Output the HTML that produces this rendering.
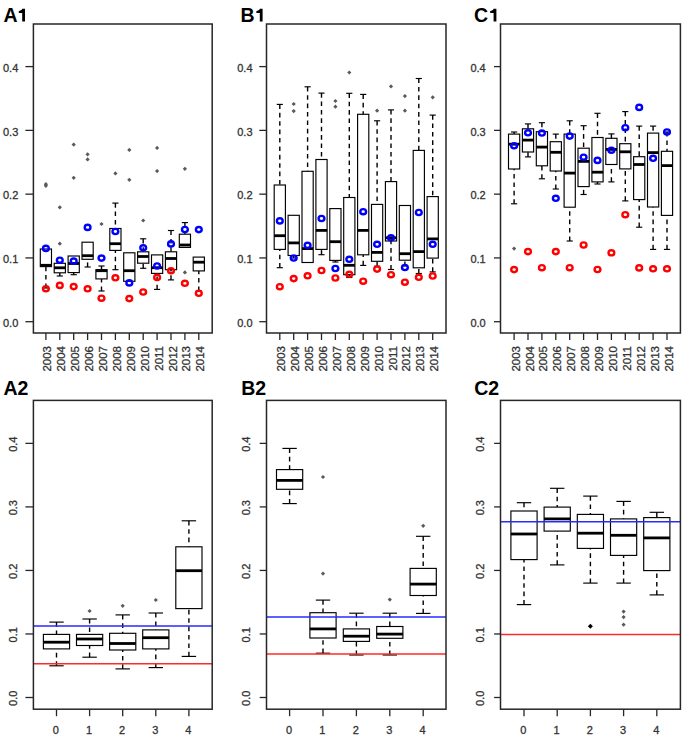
<!DOCTYPE html>
<html><head><meta charset="utf-8"><style>
html,body{margin:0;padding:0;background:#fff;}
svg{display:block;}
text{font-family:"Liberation Sans",sans-serif;}
.t{stroke:#333;stroke-width:0.3px;}
</style></head><body>
<svg width="685" height="738" viewBox="0 0 685 738">
<rect width="685" height="738" fill="#fff"/>
<line x1="45.9" y1="288" x2="45.9" y2="266.6" stroke="#000" stroke-width="1.4" stroke-linecap="butt" stroke-dasharray="4.6,3.8"/>
<line x1="42.82" y1="288" x2="48.98" y2="288" stroke="#000" stroke-width="1.15" stroke-linecap="butt"/>
<rect x="40.3" y="249" width="11.2" height="17.6" fill="#fff" stroke="#000" stroke-width="1.15"/>
<line x1="40.3" y1="265.3" x2="51.5" y2="265.3" stroke="#000" stroke-width="2.8" stroke-linecap="butt"/>
<path d="M45.9 182.1l2.1 2.1l-2.1 2.1l-2.1 -2.1z" fill="#5a5a5a"/>
<path d="M45.9 183.7l2.1 2.1l-2.1 2.1l-2.1 -2.1z" fill="#5a5a5a"/>
<line x1="59.8" y1="276" x2="59.8" y2="272.8" stroke="#000" stroke-width="1.4" stroke-linecap="butt" stroke-dasharray="4.6,3.8"/>
<line x1="56.72" y1="276" x2="62.88" y2="276" stroke="#000" stroke-width="1.15" stroke-linecap="butt"/>
<rect x="54.2" y="263.3" width="11.2" height="9.5" fill="#fff" stroke="#000" stroke-width="1.15"/>
<line x1="54.2" y1="267.8" x2="65.4" y2="267.8" stroke="#000" stroke-width="2.8" stroke-linecap="butt"/>
<path d="M59.8 205.2l2.1 2.1l-2.1 2.1l-2.1 -2.1z" fill="#5a5a5a"/>
<path d="M59.8 241.6l2.1 2.1l-2.1 2.1l-2.1 -2.1z" fill="#5a5a5a"/>
<line x1="73.7" y1="274.7" x2="73.7" y2="272.6" stroke="#000" stroke-width="1.4" stroke-linecap="butt" stroke-dasharray="4.6,3.8"/>
<line x1="70.62" y1="274.7" x2="76.78" y2="274.7" stroke="#000" stroke-width="1.15" stroke-linecap="butt"/>
<rect x="68.1" y="256" width="11.2" height="16.6" fill="#fff" stroke="#000" stroke-width="1.15"/>
<line x1="68.1" y1="263.5" x2="79.3" y2="263.5" stroke="#000" stroke-width="2.8" stroke-linecap="butt"/>
<path d="M73.7 142.5l2.1 2.1l-2.1 2.1l-2.1 -2.1z" fill="#5a5a5a"/>
<path d="M73.7 175.7l2.1 2.1l-2.1 2.1l-2.1 -2.1z" fill="#5a5a5a"/>
<line x1="87.6" y1="267" x2="87.6" y2="259.3" stroke="#000" stroke-width="1.4" stroke-linecap="butt" stroke-dasharray="4.6,3.8"/>
<line x1="84.52" y1="267" x2="90.68" y2="267" stroke="#000" stroke-width="1.15" stroke-linecap="butt"/>
<rect x="82" y="242.2" width="11.2" height="17.1" fill="#fff" stroke="#000" stroke-width="1.15"/>
<line x1="82" y1="255.7" x2="93.2" y2="255.7" stroke="#000" stroke-width="2.8" stroke-linecap="butt"/>
<path d="M87.6 152.2l2.1 2.1l-2.1 2.1l-2.1 -2.1z" fill="#5a5a5a"/>
<path d="M87.6 157.3l2.1 2.1l-2.1 2.1l-2.1 -2.1z" fill="#5a5a5a"/>
<line x1="101.5" y1="266" x2="101.5" y2="269.7" stroke="#000" stroke-width="1.4" stroke-linecap="butt" stroke-dasharray="4.6,3.8"/>
<line x1="98.42" y1="266" x2="104.58" y2="266" stroke="#000" stroke-width="1.15" stroke-linecap="butt"/>
<line x1="101.5" y1="291" x2="101.5" y2="278.9" stroke="#000" stroke-width="1.4" stroke-linecap="butt" stroke-dasharray="4.6,3.8"/>
<line x1="98.42" y1="291" x2="104.58" y2="291" stroke="#000" stroke-width="1.15" stroke-linecap="butt"/>
<rect x="95.9" y="269.7" width="11.2" height="9.2" fill="#fff" stroke="#000" stroke-width="1.15"/>
<line x1="95.9" y1="270.7" x2="107.1" y2="270.7" stroke="#000" stroke-width="2.8" stroke-linecap="butt"/>
<path d="M101.5 221.9l2.1 2.1l-2.1 2.1l-2.1 -2.1z" fill="#5a5a5a"/>
<line x1="115.4" y1="203.1" x2="115.4" y2="228.5" stroke="#000" stroke-width="1.4" stroke-linecap="butt" stroke-dasharray="4.6,3.8"/>
<line x1="112.32" y1="203.1" x2="118.48" y2="203.1" stroke="#000" stroke-width="1.15" stroke-linecap="butt"/>
<line x1="115.4" y1="269.7" x2="115.4" y2="250.4" stroke="#000" stroke-width="1.4" stroke-linecap="butt" stroke-dasharray="4.6,3.8"/>
<line x1="112.32" y1="269.7" x2="118.48" y2="269.7" stroke="#000" stroke-width="1.15" stroke-linecap="butt"/>
<rect x="109.8" y="228.5" width="11.2" height="21.9" fill="#fff" stroke="#000" stroke-width="1.15"/>
<line x1="109.8" y1="243.7" x2="121" y2="243.7" stroke="#000" stroke-width="2.8" stroke-linecap="butt"/>
<path d="M115.4 171.3l2.1 2.1l-2.1 2.1l-2.1 -2.1z" fill="#5a5a5a"/>
<rect x="123.7" y="252.8" width="11.2" height="28.5" fill="#fff" stroke="#000" stroke-width="1.15"/>
<line x1="123.7" y1="270.7" x2="134.9" y2="270.7" stroke="#000" stroke-width="2.8" stroke-linecap="butt"/>
<path d="M129.3 147.8l2.1 2.1l-2.1 2.1l-2.1 -2.1z" fill="#5a5a5a"/>
<path d="M129.3 177.7l2.1 2.1l-2.1 2.1l-2.1 -2.1z" fill="#5a5a5a"/>
<line x1="143.2" y1="238.8" x2="143.2" y2="251.8" stroke="#000" stroke-width="1.4" stroke-linecap="butt" stroke-dasharray="4.6,3.8"/>
<line x1="140.12" y1="238.8" x2="146.28" y2="238.8" stroke="#000" stroke-width="1.15" stroke-linecap="butt"/>
<line x1="143.2" y1="268.3" x2="143.2" y2="263.2" stroke="#000" stroke-width="1.4" stroke-linecap="butt" stroke-dasharray="4.6,3.8"/>
<line x1="140.12" y1="268.3" x2="146.28" y2="268.3" stroke="#000" stroke-width="1.15" stroke-linecap="butt"/>
<rect x="137.6" y="251.8" width="11.2" height="11.4" fill="#fff" stroke="#000" stroke-width="1.15"/>
<line x1="137.6" y1="256.5" x2="148.8" y2="256.5" stroke="#000" stroke-width="2.8" stroke-linecap="butt"/>
<path d="M143.2 218.4l2.1 2.1l-2.1 2.1l-2.1 -2.1z" fill="#5a5a5a"/>
<line x1="157.1" y1="289.4" x2="157.1" y2="273.4" stroke="#000" stroke-width="1.4" stroke-linecap="butt" stroke-dasharray="4.6,3.8"/>
<line x1="154.02" y1="289.4" x2="160.18" y2="289.4" stroke="#000" stroke-width="1.15" stroke-linecap="butt"/>
<rect x="151.5" y="254.9" width="11.2" height="18.5" fill="#fff" stroke="#000" stroke-width="1.15"/>
<line x1="151.5" y1="267.7" x2="162.7" y2="267.7" stroke="#000" stroke-width="2.8" stroke-linecap="butt"/>
<path d="M157.1 145.8l2.1 2.1l-2.1 2.1l-2.1 -2.1z" fill="#5a5a5a"/>
<path d="M157.1 169l2.1 2.1l-2.1 2.1l-2.1 -2.1z" fill="#5a5a5a"/>
<line x1="171" y1="230.5" x2="171" y2="251.8" stroke="#000" stroke-width="1.4" stroke-linecap="butt" stroke-dasharray="4.6,3.8"/>
<line x1="167.92" y1="230.5" x2="174.08" y2="230.5" stroke="#000" stroke-width="1.15" stroke-linecap="butt"/>
<line x1="171" y1="279.9" x2="171" y2="269.7" stroke="#000" stroke-width="1.4" stroke-linecap="butt" stroke-dasharray="4.6,3.8"/>
<line x1="167.92" y1="279.9" x2="174.08" y2="279.9" stroke="#000" stroke-width="1.15" stroke-linecap="butt"/>
<rect x="165.4" y="251.8" width="11.2" height="17.9" fill="#fff" stroke="#000" stroke-width="1.15"/>
<line x1="165.4" y1="258.5" x2="176.6" y2="258.5" stroke="#000" stroke-width="2.8" stroke-linecap="butt"/>
<line x1="184.9" y1="222.6" x2="184.9" y2="234.2" stroke="#000" stroke-width="1.4" stroke-linecap="butt" stroke-dasharray="4.6,3.8"/>
<line x1="181.82" y1="222.6" x2="187.98" y2="222.6" stroke="#000" stroke-width="1.15" stroke-linecap="butt"/>
<rect x="179.3" y="234.2" width="11.2" height="13.2" fill="#fff" stroke="#000" stroke-width="1.15"/>
<line x1="179.3" y1="245" x2="190.5" y2="245" stroke="#000" stroke-width="2.8" stroke-linecap="butt"/>
<path d="M184.9 166.7l2.1 2.1l-2.1 2.1l-2.1 -2.1z" fill="#5a5a5a"/>
<path d="M184.9 270.3l2.1 2.1l-2.1 2.1l-2.1 -2.1z" fill="#5a5a5a"/>
<line x1="198.8" y1="291" x2="198.8" y2="270.9" stroke="#000" stroke-width="1.4" stroke-linecap="butt" stroke-dasharray="4.6,3.8"/>
<line x1="195.72" y1="291" x2="201.88" y2="291" stroke="#000" stroke-width="1.15" stroke-linecap="butt"/>
<rect x="193.2" y="257.1" width="11.2" height="13.8" fill="#fff" stroke="#000" stroke-width="1.15"/>
<line x1="193.2" y1="262.2" x2="204.4" y2="262.2" stroke="#000" stroke-width="2.8" stroke-linecap="butt"/>
<ellipse cx="45.9" cy="248.4" rx="2.9" ry="2.6" fill="none" stroke="#0000ff" stroke-width="2.4"/>
<ellipse cx="45.9" cy="288.7" rx="2.9" ry="2.6" fill="none" stroke="#ff0000" stroke-width="2.4"/>
<ellipse cx="59.8" cy="260.2" rx="2.9" ry="2.6" fill="none" stroke="#0000ff" stroke-width="2.4"/>
<ellipse cx="59.8" cy="285.4" rx="2.9" ry="2.6" fill="none" stroke="#ff0000" stroke-width="2.4"/>
<ellipse cx="73.7" cy="261.1" rx="2.9" ry="2.6" fill="none" stroke="#0000ff" stroke-width="2.4"/>
<ellipse cx="73.7" cy="286.6" rx="2.9" ry="2.6" fill="none" stroke="#ff0000" stroke-width="2.4"/>
<ellipse cx="87.6" cy="227.4" rx="2.9" ry="2.6" fill="none" stroke="#0000ff" stroke-width="2.4"/>
<ellipse cx="87.6" cy="288.8" rx="2.9" ry="2.6" fill="none" stroke="#ff0000" stroke-width="2.4"/>
<ellipse cx="101.5" cy="258.1" rx="2.9" ry="2.6" fill="none" stroke="#0000ff" stroke-width="2.4"/>
<ellipse cx="101.5" cy="298.2" rx="2.9" ry="2.6" fill="none" stroke="#ff0000" stroke-width="2.4"/>
<ellipse cx="115.4" cy="231.5" rx="2.9" ry="2.6" fill="none" stroke="#0000ff" stroke-width="2.4"/>
<ellipse cx="115.4" cy="277.8" rx="2.9" ry="2.6" fill="none" stroke="#ff0000" stroke-width="2.4"/>
<ellipse cx="129.3" cy="282.9" rx="2.9" ry="2.6" fill="none" stroke="#0000ff" stroke-width="2.4"/>
<ellipse cx="129.3" cy="298.6" rx="2.9" ry="2.6" fill="none" stroke="#ff0000" stroke-width="2.4"/>
<ellipse cx="143.2" cy="247.8" rx="2.9" ry="2.6" fill="none" stroke="#0000ff" stroke-width="2.4"/>
<ellipse cx="143.2" cy="292" rx="2.9" ry="2.6" fill="none" stroke="#ff0000" stroke-width="2.4"/>
<ellipse cx="157.1" cy="266" rx="2.9" ry="2.6" fill="none" stroke="#0000ff" stroke-width="2.4"/>
<ellipse cx="157.1" cy="277.4" rx="2.9" ry="2.6" fill="none" stroke="#ff0000" stroke-width="2.4"/>
<ellipse cx="171" cy="243.9" rx="2.9" ry="2.6" fill="none" stroke="#0000ff" stroke-width="2.4"/>
<ellipse cx="171" cy="270.7" rx="2.9" ry="2.6" fill="none" stroke="#ff0000" stroke-width="2.4"/>
<ellipse cx="184.9" cy="229.5" rx="2.9" ry="2.6" fill="none" stroke="#0000ff" stroke-width="2.4"/>
<ellipse cx="184.9" cy="283.3" rx="2.9" ry="2.6" fill="none" stroke="#ff0000" stroke-width="2.4"/>
<ellipse cx="198.8" cy="229.6" rx="2.9" ry="2.6" fill="none" stroke="#0000ff" stroke-width="2.4"/>
<ellipse cx="198.8" cy="293.3" rx="2.9" ry="2.6" fill="none" stroke="#ff0000" stroke-width="2.4"/>
<rect x="33.4" y="24" width="178.8" height="309" fill="none" stroke="#262626" stroke-width="1.5"/>
<line x1="25.4" y1="321.7" x2="33.4" y2="321.7" stroke="#262626" stroke-width="1.3" stroke-linecap="butt"/>
<text class="t" x="18.3" y="326.9" text-anchor="end" font-size="11" font-weight="normal" fill="#333">0.0</text>
<line x1="25.4" y1="257.93" x2="33.4" y2="257.93" stroke="#262626" stroke-width="1.3" stroke-linecap="butt"/>
<text class="t" x="18.3" y="263.12" text-anchor="end" font-size="11" font-weight="normal" fill="#333">0.1</text>
<line x1="25.4" y1="194.15" x2="33.4" y2="194.15" stroke="#262626" stroke-width="1.3" stroke-linecap="butt"/>
<text class="t" x="18.3" y="199.35" text-anchor="end" font-size="11" font-weight="normal" fill="#333">0.2</text>
<line x1="25.4" y1="130.38" x2="33.4" y2="130.38" stroke="#262626" stroke-width="1.3" stroke-linecap="butt"/>
<text class="t" x="18.3" y="135.57" text-anchor="end" font-size="11" font-weight="normal" fill="#333">0.3</text>
<line x1="25.4" y1="66.6" x2="33.4" y2="66.6" stroke="#262626" stroke-width="1.3" stroke-linecap="butt"/>
<text class="t" x="18.3" y="71.8" text-anchor="end" font-size="11" font-weight="normal" fill="#333">0.4</text>
<line x1="45.9" y1="333" x2="45.9" y2="340" stroke="#262626" stroke-width="1.3" stroke-linecap="butt"/>
<text class="t" transform="translate(51.4 346) rotate(-90)" text-anchor="end" font-size="11.5" fill="#333">2003</text>
<line x1="59.8" y1="333" x2="59.8" y2="340" stroke="#262626" stroke-width="1.3" stroke-linecap="butt"/>
<text class="t" transform="translate(65.3 346) rotate(-90)" text-anchor="end" font-size="11.5" fill="#333">2004</text>
<line x1="73.7" y1="333" x2="73.7" y2="340" stroke="#262626" stroke-width="1.3" stroke-linecap="butt"/>
<text class="t" transform="translate(79.2 346) rotate(-90)" text-anchor="end" font-size="11.5" fill="#333">2005</text>
<line x1="87.6" y1="333" x2="87.6" y2="340" stroke="#262626" stroke-width="1.3" stroke-linecap="butt"/>
<text class="t" transform="translate(93.1 346) rotate(-90)" text-anchor="end" font-size="11.5" fill="#333">2006</text>
<line x1="101.5" y1="333" x2="101.5" y2="340" stroke="#262626" stroke-width="1.3" stroke-linecap="butt"/>
<text class="t" transform="translate(107 346) rotate(-90)" text-anchor="end" font-size="11.5" fill="#333">2007</text>
<line x1="115.4" y1="333" x2="115.4" y2="340" stroke="#262626" stroke-width="1.3" stroke-linecap="butt"/>
<text class="t" transform="translate(120.9 346) rotate(-90)" text-anchor="end" font-size="11.5" fill="#333">2008</text>
<line x1="129.3" y1="333" x2="129.3" y2="340" stroke="#262626" stroke-width="1.3" stroke-linecap="butt"/>
<text class="t" transform="translate(134.8 346) rotate(-90)" text-anchor="end" font-size="11.5" fill="#333">2009</text>
<line x1="143.2" y1="333" x2="143.2" y2="340" stroke="#262626" stroke-width="1.3" stroke-linecap="butt"/>
<text class="t" transform="translate(148.7 346) rotate(-90)" text-anchor="end" font-size="11.5" fill="#333">2010</text>
<line x1="157.1" y1="333" x2="157.1" y2="340" stroke="#262626" stroke-width="1.3" stroke-linecap="butt"/>
<text class="t" transform="translate(162.6 346) rotate(-90)" text-anchor="end" font-size="11.5" fill="#333">2011</text>
<line x1="171" y1="333" x2="171" y2="340" stroke="#262626" stroke-width="1.3" stroke-linecap="butt"/>
<text class="t" transform="translate(176.5 346) rotate(-90)" text-anchor="end" font-size="11.5" fill="#333">2012</text>
<line x1="184.9" y1="333" x2="184.9" y2="340" stroke="#262626" stroke-width="1.3" stroke-linecap="butt"/>
<text class="t" transform="translate(190.4 346) rotate(-90)" text-anchor="end" font-size="11.5" fill="#333">2013</text>
<line x1="198.8" y1="333" x2="198.8" y2="340" stroke="#262626" stroke-width="1.3" stroke-linecap="butt"/>
<text class="t" transform="translate(204.3 346) rotate(-90)" text-anchor="end" font-size="11.5" fill="#333">2014</text>
<text x="3.5" y="21.9" text-anchor="start" font-size="19.5" font-weight="bold" fill="#000">A</text>
<path d="M22.2 8.8h2.8v12.8h-2.8v-8.7h-3.4v-2c1.6-.1 3-.7 3.4-2.1z" fill="#000"/>
<line x1="279.8" y1="104.4" x2="279.8" y2="185" stroke="#000" stroke-width="1.4" stroke-linecap="butt" stroke-dasharray="4.6,3.8"/>
<line x1="276.72" y1="104.4" x2="282.88" y2="104.4" stroke="#000" stroke-width="1.15" stroke-linecap="butt"/>
<line x1="279.8" y1="267.7" x2="279.8" y2="249.4" stroke="#000" stroke-width="1.4" stroke-linecap="butt" stroke-dasharray="4.6,3.8"/>
<line x1="276.72" y1="267.7" x2="282.88" y2="267.7" stroke="#000" stroke-width="1.15" stroke-linecap="butt"/>
<rect x="274.2" y="185" width="11.2" height="64.4" fill="#fff" stroke="#000" stroke-width="1.15"/>
<line x1="274.2" y1="235.7" x2="285.4" y2="235.7" stroke="#000" stroke-width="2.8" stroke-linecap="butt"/>
<line x1="293.7" y1="258" x2="293.7" y2="255.5" stroke="#000" stroke-width="1.4" stroke-linecap="butt" stroke-dasharray="4.6,3.8"/>
<line x1="290.62" y1="258" x2="296.78" y2="258" stroke="#000" stroke-width="1.15" stroke-linecap="butt"/>
<rect x="288.1" y="215.3" width="11.2" height="40.2" fill="#fff" stroke="#000" stroke-width="1.15"/>
<line x1="288.1" y1="242.9" x2="299.3" y2="242.9" stroke="#000" stroke-width="2.8" stroke-linecap="butt"/>
<path d="M293.7 101.9l2.1 2.1l-2.1 2.1l-2.1 -2.1z" fill="#5a5a5a"/>
<path d="M293.7 109l2.1 2.1l-2.1 2.1l-2.1 -2.1z" fill="#5a5a5a"/>
<line x1="307.6" y1="86.8" x2="307.6" y2="171.3" stroke="#000" stroke-width="1.4" stroke-linecap="butt" stroke-dasharray="4.6,3.8"/>
<line x1="304.52" y1="86.8" x2="310.68" y2="86.8" stroke="#000" stroke-width="1.15" stroke-linecap="butt"/>
<rect x="302" y="171.3" width="11.2" height="91.2" fill="#fff" stroke="#000" stroke-width="1.15"/>
<line x1="302" y1="248.6" x2="313.2" y2="248.6" stroke="#000" stroke-width="2.8" stroke-linecap="butt"/>
<line x1="321.5" y1="93.1" x2="321.5" y2="159.5" stroke="#000" stroke-width="1.4" stroke-linecap="butt" stroke-dasharray="4.6,3.8"/>
<line x1="318.42" y1="93.1" x2="324.58" y2="93.1" stroke="#000" stroke-width="1.15" stroke-linecap="butt"/>
<line x1="321.5" y1="254.7" x2="321.5" y2="249.4" stroke="#000" stroke-width="1.4" stroke-linecap="butt" stroke-dasharray="4.6,3.8"/>
<line x1="318.42" y1="254.7" x2="324.58" y2="254.7" stroke="#000" stroke-width="1.15" stroke-linecap="butt"/>
<rect x="315.9" y="159.5" width="11.2" height="89.9" fill="#fff" stroke="#000" stroke-width="1.15"/>
<line x1="315.9" y1="230.4" x2="327.1" y2="230.4" stroke="#000" stroke-width="2.8" stroke-linecap="butt"/>
<line x1="335.4" y1="262" x2="335.4" y2="260.4" stroke="#000" stroke-width="1.4" stroke-linecap="butt" stroke-dasharray="4.6,3.8"/>
<line x1="332.32" y1="262" x2="338.48" y2="262" stroke="#000" stroke-width="1.15" stroke-linecap="butt"/>
<rect x="329.8" y="208.6" width="11.2" height="51.8" fill="#fff" stroke="#000" stroke-width="1.15"/>
<line x1="329.8" y1="241.7" x2="341" y2="241.7" stroke="#000" stroke-width="2.8" stroke-linecap="butt"/>
<path d="M335.4 98.9l2.1 2.1l-2.1 2.1l-2.1 -2.1z" fill="#5a5a5a"/>
<path d="M335.4 104.6l2.1 2.1l-2.1 2.1l-2.1 -2.1z" fill="#5a5a5a"/>
<line x1="349.3" y1="93.3" x2="349.3" y2="197.5" stroke="#000" stroke-width="1.4" stroke-linecap="butt" stroke-dasharray="4.6,3.8"/>
<line x1="346.22" y1="93.3" x2="352.38" y2="93.3" stroke="#000" stroke-width="1.15" stroke-linecap="butt"/>
<line x1="349.3" y1="277.5" x2="349.3" y2="274.7" stroke="#000" stroke-width="1.4" stroke-linecap="butt" stroke-dasharray="4.6,3.8"/>
<line x1="346.22" y1="277.5" x2="352.38" y2="277.5" stroke="#000" stroke-width="1.15" stroke-linecap="butt"/>
<rect x="343.7" y="197.5" width="11.2" height="77.2" fill="#fff" stroke="#000" stroke-width="1.15"/>
<line x1="343.7" y1="265.3" x2="354.9" y2="265.3" stroke="#000" stroke-width="2.8" stroke-linecap="butt"/>
<path d="M349.3 70.4l2.1 2.1l-2.1 2.1l-2.1 -2.1z" fill="#5a5a5a"/>
<line x1="363.2" y1="94.4" x2="363.2" y2="114.3" stroke="#000" stroke-width="1.4" stroke-linecap="butt" stroke-dasharray="4.6,3.8"/>
<line x1="360.12" y1="94.4" x2="366.28" y2="94.4" stroke="#000" stroke-width="1.15" stroke-linecap="butt"/>
<line x1="363.2" y1="265.4" x2="363.2" y2="254.8" stroke="#000" stroke-width="1.4" stroke-linecap="butt" stroke-dasharray="4.6,3.8"/>
<line x1="360.12" y1="265.4" x2="366.28" y2="265.4" stroke="#000" stroke-width="1.15" stroke-linecap="butt"/>
<rect x="357.6" y="114.3" width="11.2" height="140.5" fill="#fff" stroke="#000" stroke-width="1.15"/>
<line x1="357.6" y1="230.4" x2="368.8" y2="230.4" stroke="#000" stroke-width="2.8" stroke-linecap="butt"/>
<line x1="377.1" y1="120.8" x2="377.1" y2="204.4" stroke="#000" stroke-width="1.4" stroke-linecap="butt" stroke-dasharray="4.6,3.8"/>
<line x1="374.02" y1="120.8" x2="380.18" y2="120.8" stroke="#000" stroke-width="1.15" stroke-linecap="butt"/>
<line x1="377.1" y1="266.2" x2="377.1" y2="261.3" stroke="#000" stroke-width="1.4" stroke-linecap="butt" stroke-dasharray="4.6,3.8"/>
<line x1="374.02" y1="266.2" x2="380.18" y2="266.2" stroke="#000" stroke-width="1.15" stroke-linecap="butt"/>
<rect x="371.5" y="204.4" width="11.2" height="56.9" fill="#fff" stroke="#000" stroke-width="1.15"/>
<line x1="371.5" y1="252.4" x2="382.7" y2="252.4" stroke="#000" stroke-width="2.8" stroke-linecap="butt"/>
<path d="M377.1 108.6l2.1 2.1l-2.1 2.1l-2.1 -2.1z" fill="#5a5a5a"/>
<line x1="391" y1="109.9" x2="391" y2="181.6" stroke="#000" stroke-width="1.4" stroke-linecap="butt" stroke-dasharray="4.6,3.8"/>
<line x1="387.92" y1="109.9" x2="394.08" y2="109.9" stroke="#000" stroke-width="1.15" stroke-linecap="butt"/>
<line x1="391" y1="269.5" x2="391" y2="241" stroke="#000" stroke-width="1.4" stroke-linecap="butt" stroke-dasharray="4.6,3.8"/>
<line x1="387.92" y1="269.5" x2="394.08" y2="269.5" stroke="#000" stroke-width="1.15" stroke-linecap="butt"/>
<rect x="385.4" y="181.6" width="11.2" height="59.4" fill="#fff" stroke="#000" stroke-width="1.15"/>
<line x1="385.4" y1="237.8" x2="396.6" y2="237.8" stroke="#000" stroke-width="2.8" stroke-linecap="butt"/>
<path d="M391 84.3l2.1 2.1l-2.1 2.1l-2.1 -2.1z" fill="#5a5a5a"/>
<line x1="404.9" y1="266" x2="404.9" y2="260.2" stroke="#000" stroke-width="1.4" stroke-linecap="butt" stroke-dasharray="4.6,3.8"/>
<line x1="401.82" y1="266" x2="407.98" y2="266" stroke="#000" stroke-width="1.15" stroke-linecap="butt"/>
<rect x="399.3" y="205.5" width="11.2" height="54.7" fill="#fff" stroke="#000" stroke-width="1.15"/>
<line x1="399.3" y1="253.7" x2="410.5" y2="253.7" stroke="#000" stroke-width="2.8" stroke-linecap="butt"/>
<path d="M404.9 94l2.1 2.1l-2.1 2.1l-2.1 -2.1z" fill="#5a5a5a"/>
<path d="M404.9 108.6l2.1 2.1l-2.1 2.1l-2.1 -2.1z" fill="#5a5a5a"/>
<line x1="418.8" y1="78.5" x2="418.8" y2="150.4" stroke="#000" stroke-width="1.4" stroke-linecap="butt" stroke-dasharray="4.6,3.8"/>
<line x1="415.72" y1="78.5" x2="421.88" y2="78.5" stroke="#000" stroke-width="1.15" stroke-linecap="butt"/>
<line x1="418.8" y1="273.5" x2="418.8" y2="267.8" stroke="#000" stroke-width="1.4" stroke-linecap="butt" stroke-dasharray="4.6,3.8"/>
<line x1="415.72" y1="273.5" x2="421.88" y2="273.5" stroke="#000" stroke-width="1.15" stroke-linecap="butt"/>
<rect x="413.2" y="150.4" width="11.2" height="117.4" fill="#fff" stroke="#000" stroke-width="1.15"/>
<line x1="413.2" y1="251.6" x2="424.4" y2="251.6" stroke="#000" stroke-width="2.8" stroke-linecap="butt"/>
<line x1="432.7" y1="115.1" x2="432.7" y2="196.6" stroke="#000" stroke-width="1.4" stroke-linecap="butt" stroke-dasharray="4.6,3.8"/>
<line x1="429.62" y1="115.1" x2="435.78" y2="115.1" stroke="#000" stroke-width="1.15" stroke-linecap="butt"/>
<line x1="432.7" y1="271.9" x2="432.7" y2="258.1" stroke="#000" stroke-width="1.4" stroke-linecap="butt" stroke-dasharray="4.6,3.8"/>
<line x1="429.62" y1="271.9" x2="435.78" y2="271.9" stroke="#000" stroke-width="1.15" stroke-linecap="butt"/>
<rect x="427.1" y="196.6" width="11.2" height="61.5" fill="#fff" stroke="#000" stroke-width="1.15"/>
<line x1="427.1" y1="238.9" x2="438.3" y2="238.9" stroke="#000" stroke-width="2.8" stroke-linecap="butt"/>
<path d="M432.7 95.2l2.1 2.1l-2.1 2.1l-2.1 -2.1z" fill="#5a5a5a"/>
<ellipse cx="279.8" cy="220.9" rx="2.9" ry="2.6" fill="none" stroke="#0000ff" stroke-width="2.4"/>
<ellipse cx="279.8" cy="286.7" rx="2.9" ry="2.6" fill="none" stroke="#ff0000" stroke-width="2.4"/>
<ellipse cx="293.7" cy="258" rx="2.9" ry="2.6" fill="none" stroke="#0000ff" stroke-width="2.4"/>
<ellipse cx="293.7" cy="278.6" rx="2.9" ry="2.6" fill="none" stroke="#ff0000" stroke-width="2.4"/>
<ellipse cx="307.6" cy="245.3" rx="2.9" ry="2.6" fill="none" stroke="#0000ff" stroke-width="2.4"/>
<ellipse cx="307.6" cy="275.8" rx="2.9" ry="2.6" fill="none" stroke="#ff0000" stroke-width="2.4"/>
<ellipse cx="321.5" cy="218.5" rx="2.9" ry="2.6" fill="none" stroke="#0000ff" stroke-width="2.4"/>
<ellipse cx="321.5" cy="270.5" rx="2.9" ry="2.6" fill="none" stroke="#ff0000" stroke-width="2.4"/>
<ellipse cx="335.4" cy="268.5" rx="2.9" ry="2.6" fill="none" stroke="#0000ff" stroke-width="2.4"/>
<ellipse cx="335.4" cy="278" rx="2.9" ry="2.6" fill="none" stroke="#ff0000" stroke-width="2.4"/>
<ellipse cx="349.3" cy="259.3" rx="2.9" ry="2.6" fill="none" stroke="#0000ff" stroke-width="2.4"/>
<ellipse cx="349.3" cy="274.3" rx="2.9" ry="2.6" fill="none" stroke="#ff0000" stroke-width="2.4"/>
<ellipse cx="363.2" cy="211.7" rx="2.9" ry="2.6" fill="none" stroke="#0000ff" stroke-width="2.4"/>
<ellipse cx="363.2" cy="281.2" rx="2.9" ry="2.6" fill="none" stroke="#ff0000" stroke-width="2.4"/>
<ellipse cx="377.1" cy="244.3" rx="2.9" ry="2.6" fill="none" stroke="#0000ff" stroke-width="2.4"/>
<ellipse cx="377.1" cy="269.1" rx="2.9" ry="2.6" fill="none" stroke="#ff0000" stroke-width="2.4"/>
<ellipse cx="391" cy="237.8" rx="2.9" ry="2.6" fill="none" stroke="#0000ff" stroke-width="2.4"/>
<ellipse cx="391" cy="274.7" rx="2.9" ry="2.6" fill="none" stroke="#ff0000" stroke-width="2.4"/>
<ellipse cx="404.9" cy="267.5" rx="2.9" ry="2.6" fill="none" stroke="#0000ff" stroke-width="2.4"/>
<ellipse cx="404.9" cy="282.2" rx="2.9" ry="2.6" fill="none" stroke="#ff0000" stroke-width="2.4"/>
<ellipse cx="418.8" cy="212.5" rx="2.9" ry="2.6" fill="none" stroke="#0000ff" stroke-width="2.4"/>
<ellipse cx="418.8" cy="277.3" rx="2.9" ry="2.6" fill="none" stroke="#ff0000" stroke-width="2.4"/>
<ellipse cx="432.7" cy="244.3" rx="2.9" ry="2.6" fill="none" stroke="#0000ff" stroke-width="2.4"/>
<ellipse cx="432.7" cy="276" rx="2.9" ry="2.6" fill="none" stroke="#ff0000" stroke-width="2.4"/>
<rect x="266.5" y="24" width="179.5" height="309" fill="none" stroke="#262626" stroke-width="1.5"/>
<line x1="259.3" y1="321.7" x2="266.5" y2="321.7" stroke="#262626" stroke-width="1.3" stroke-linecap="butt"/>
<text class="t" x="252.5" y="326.9" text-anchor="end" font-size="11" font-weight="normal" fill="#333">0.0</text>
<line x1="259.3" y1="257.93" x2="266.5" y2="257.93" stroke="#262626" stroke-width="1.3" stroke-linecap="butt"/>
<text class="t" x="252.5" y="263.12" text-anchor="end" font-size="11" font-weight="normal" fill="#333">0.1</text>
<line x1="259.3" y1="194.15" x2="266.5" y2="194.15" stroke="#262626" stroke-width="1.3" stroke-linecap="butt"/>
<text class="t" x="252.5" y="199.35" text-anchor="end" font-size="11" font-weight="normal" fill="#333">0.2</text>
<line x1="259.3" y1="130.38" x2="266.5" y2="130.38" stroke="#262626" stroke-width="1.3" stroke-linecap="butt"/>
<text class="t" x="252.5" y="135.57" text-anchor="end" font-size="11" font-weight="normal" fill="#333">0.3</text>
<line x1="259.3" y1="66.6" x2="266.5" y2="66.6" stroke="#262626" stroke-width="1.3" stroke-linecap="butt"/>
<text class="t" x="252.5" y="71.8" text-anchor="end" font-size="11" font-weight="normal" fill="#333">0.4</text>
<line x1="279.8" y1="333" x2="279.8" y2="340" stroke="#262626" stroke-width="1.3" stroke-linecap="butt"/>
<text class="t" transform="translate(285.3 346) rotate(-90)" text-anchor="end" font-size="11.5" fill="#333">2003</text>
<line x1="293.7" y1="333" x2="293.7" y2="340" stroke="#262626" stroke-width="1.3" stroke-linecap="butt"/>
<text class="t" transform="translate(299.2 346) rotate(-90)" text-anchor="end" font-size="11.5" fill="#333">2004</text>
<line x1="307.6" y1="333" x2="307.6" y2="340" stroke="#262626" stroke-width="1.3" stroke-linecap="butt"/>
<text class="t" transform="translate(313.1 346) rotate(-90)" text-anchor="end" font-size="11.5" fill="#333">2005</text>
<line x1="321.5" y1="333" x2="321.5" y2="340" stroke="#262626" stroke-width="1.3" stroke-linecap="butt"/>
<text class="t" transform="translate(327 346) rotate(-90)" text-anchor="end" font-size="11.5" fill="#333">2006</text>
<line x1="335.4" y1="333" x2="335.4" y2="340" stroke="#262626" stroke-width="1.3" stroke-linecap="butt"/>
<text class="t" transform="translate(340.9 346) rotate(-90)" text-anchor="end" font-size="11.5" fill="#333">2007</text>
<line x1="349.3" y1="333" x2="349.3" y2="340" stroke="#262626" stroke-width="1.3" stroke-linecap="butt"/>
<text class="t" transform="translate(354.8 346) rotate(-90)" text-anchor="end" font-size="11.5" fill="#333">2008</text>
<line x1="363.2" y1="333" x2="363.2" y2="340" stroke="#262626" stroke-width="1.3" stroke-linecap="butt"/>
<text class="t" transform="translate(368.7 346) rotate(-90)" text-anchor="end" font-size="11.5" fill="#333">2009</text>
<line x1="377.1" y1="333" x2="377.1" y2="340" stroke="#262626" stroke-width="1.3" stroke-linecap="butt"/>
<text class="t" transform="translate(382.6 346) rotate(-90)" text-anchor="end" font-size="11.5" fill="#333">2010</text>
<line x1="391" y1="333" x2="391" y2="340" stroke="#262626" stroke-width="1.3" stroke-linecap="butt"/>
<text class="t" transform="translate(396.5 346) rotate(-90)" text-anchor="end" font-size="11.5" fill="#333">2011</text>
<line x1="404.9" y1="333" x2="404.9" y2="340" stroke="#262626" stroke-width="1.3" stroke-linecap="butt"/>
<text class="t" transform="translate(410.4 346) rotate(-90)" text-anchor="end" font-size="11.5" fill="#333">2012</text>
<line x1="418.8" y1="333" x2="418.8" y2="340" stroke="#262626" stroke-width="1.3" stroke-linecap="butt"/>
<text class="t" transform="translate(424.3 346) rotate(-90)" text-anchor="end" font-size="11.5" fill="#333">2013</text>
<line x1="432.7" y1="333" x2="432.7" y2="340" stroke="#262626" stroke-width="1.3" stroke-linecap="butt"/>
<text class="t" transform="translate(438.2 346) rotate(-90)" text-anchor="end" font-size="11.5" fill="#333">2014</text>
<text x="240.6" y="21.9" text-anchor="start" font-size="19.5" font-weight="bold" fill="#000">B</text>
<path d="M259.8 8.8h2.8v12.8h-2.8v-8.7h-3.4v-2c1.6-.1 3-.7 3.4-2.1z" fill="#000"/>
<line x1="514.1" y1="132" x2="514.1" y2="134.1" stroke="#000" stroke-width="1.4" stroke-linecap="butt" stroke-dasharray="4.6,3.8"/>
<line x1="511.02" y1="132" x2="517.18" y2="132" stroke="#000" stroke-width="1.15" stroke-linecap="butt"/>
<line x1="514.1" y1="203.8" x2="514.1" y2="169" stroke="#000" stroke-width="1.4" stroke-linecap="butt" stroke-dasharray="4.6,3.8"/>
<line x1="511.02" y1="203.8" x2="517.18" y2="203.8" stroke="#000" stroke-width="1.15" stroke-linecap="butt"/>
<rect x="508.5" y="134.1" width="11.2" height="34.9" fill="#fff" stroke="#000" stroke-width="1.15"/>
<line x1="508.5" y1="144.2" x2="519.7" y2="144.2" stroke="#000" stroke-width="2.8" stroke-linecap="butt"/>
<path d="M514.1 246.5l2.1 2.1l-2.1 2.1l-2.1 -2.1z" fill="#5a5a5a"/>
<line x1="528" y1="123.9" x2="528" y2="128.8" stroke="#000" stroke-width="1.4" stroke-linecap="butt" stroke-dasharray="4.6,3.8"/>
<line x1="524.92" y1="123.9" x2="531.08" y2="123.9" stroke="#000" stroke-width="1.15" stroke-linecap="butt"/>
<line x1="528" y1="156.9" x2="528" y2="152" stroke="#000" stroke-width="1.4" stroke-linecap="butt" stroke-dasharray="4.6,3.8"/>
<line x1="524.92" y1="156.9" x2="531.08" y2="156.9" stroke="#000" stroke-width="1.15" stroke-linecap="butt"/>
<rect x="522.4" y="128.8" width="11.2" height="23.2" fill="#fff" stroke="#000" stroke-width="1.15"/>
<line x1="522.4" y1="140.1" x2="533.6" y2="140.1" stroke="#000" stroke-width="2.8" stroke-linecap="butt"/>
<line x1="541.9" y1="122.7" x2="541.9" y2="131.7" stroke="#000" stroke-width="1.4" stroke-linecap="butt" stroke-dasharray="4.6,3.8"/>
<line x1="538.82" y1="122.7" x2="544.98" y2="122.7" stroke="#000" stroke-width="1.15" stroke-linecap="butt"/>
<line x1="541.9" y1="178.8" x2="541.9" y2="165.8" stroke="#000" stroke-width="1.4" stroke-linecap="butt" stroke-dasharray="4.6,3.8"/>
<line x1="538.82" y1="178.8" x2="544.98" y2="178.8" stroke="#000" stroke-width="1.15" stroke-linecap="butt"/>
<rect x="536.3" y="131.7" width="11.2" height="34.1" fill="#fff" stroke="#000" stroke-width="1.15"/>
<line x1="536.3" y1="147.1" x2="547.5" y2="147.1" stroke="#000" stroke-width="2.8" stroke-linecap="butt"/>
<line x1="555.8" y1="134.1" x2="555.8" y2="141.7" stroke="#000" stroke-width="1.4" stroke-linecap="butt" stroke-dasharray="4.6,3.8"/>
<line x1="552.72" y1="134.1" x2="558.88" y2="134.1" stroke="#000" stroke-width="1.15" stroke-linecap="butt"/>
<line x1="555.8" y1="189" x2="555.8" y2="171" stroke="#000" stroke-width="1.4" stroke-linecap="butt" stroke-dasharray="4.6,3.8"/>
<line x1="552.72" y1="189" x2="558.88" y2="189" stroke="#000" stroke-width="1.15" stroke-linecap="butt"/>
<rect x="550.2" y="141.7" width="11.2" height="29.3" fill="#fff" stroke="#000" stroke-width="1.15"/>
<line x1="550.2" y1="152.3" x2="561.4" y2="152.3" stroke="#000" stroke-width="2.8" stroke-linecap="butt"/>
<line x1="569.7" y1="120.8" x2="569.7" y2="134.1" stroke="#000" stroke-width="1.4" stroke-linecap="butt" stroke-dasharray="4.6,3.8"/>
<line x1="566.62" y1="120.8" x2="572.78" y2="120.8" stroke="#000" stroke-width="1.15" stroke-linecap="butt"/>
<line x1="569.7" y1="241" x2="569.7" y2="207.2" stroke="#000" stroke-width="1.4" stroke-linecap="butt" stroke-dasharray="4.6,3.8"/>
<line x1="566.62" y1="241" x2="572.78" y2="241" stroke="#000" stroke-width="1.15" stroke-linecap="butt"/>
<rect x="564.1" y="134.1" width="11.2" height="73.1" fill="#fff" stroke="#000" stroke-width="1.15"/>
<line x1="564.1" y1="173.1" x2="575.3" y2="173.1" stroke="#000" stroke-width="2.8" stroke-linecap="butt"/>
<line x1="583.6" y1="125.7" x2="583.6" y2="148.2" stroke="#000" stroke-width="1.4" stroke-linecap="butt" stroke-dasharray="4.6,3.8"/>
<line x1="580.52" y1="125.7" x2="586.68" y2="125.7" stroke="#000" stroke-width="1.15" stroke-linecap="butt"/>
<line x1="583.6" y1="194.5" x2="583.6" y2="186.6" stroke="#000" stroke-width="1.4" stroke-linecap="butt" stroke-dasharray="4.6,3.8"/>
<line x1="580.52" y1="194.5" x2="586.68" y2="194.5" stroke="#000" stroke-width="1.15" stroke-linecap="butt"/>
<rect x="578" y="148.2" width="11.2" height="38.4" fill="#fff" stroke="#000" stroke-width="1.15"/>
<line x1="578" y1="161.4" x2="589.2" y2="161.4" stroke="#000" stroke-width="2.8" stroke-linecap="butt"/>
<line x1="597.5" y1="113.3" x2="597.5" y2="137.5" stroke="#000" stroke-width="1.4" stroke-linecap="butt" stroke-dasharray="4.6,3.8"/>
<line x1="594.42" y1="113.3" x2="600.58" y2="113.3" stroke="#000" stroke-width="1.15" stroke-linecap="butt"/>
<line x1="597.5" y1="184" x2="597.5" y2="181.9" stroke="#000" stroke-width="1.4" stroke-linecap="butt" stroke-dasharray="4.6,3.8"/>
<line x1="594.42" y1="184" x2="600.58" y2="184" stroke="#000" stroke-width="1.15" stroke-linecap="butt"/>
<rect x="591.9" y="137.5" width="11.2" height="44.4" fill="#fff" stroke="#000" stroke-width="1.15"/>
<line x1="591.9" y1="172.2" x2="603.1" y2="172.2" stroke="#000" stroke-width="2.8" stroke-linecap="butt"/>
<line x1="611.4" y1="133.9" x2="611.4" y2="138.3" stroke="#000" stroke-width="1.4" stroke-linecap="butt" stroke-dasharray="4.6,3.8"/>
<line x1="608.32" y1="133.9" x2="614.48" y2="133.9" stroke="#000" stroke-width="1.15" stroke-linecap="butt"/>
<line x1="611.4" y1="181.9" x2="611.4" y2="164.5" stroke="#000" stroke-width="1.4" stroke-linecap="butt" stroke-dasharray="4.6,3.8"/>
<line x1="608.32" y1="181.9" x2="614.48" y2="181.9" stroke="#000" stroke-width="1.15" stroke-linecap="butt"/>
<rect x="605.8" y="138.3" width="11.2" height="26.2" fill="#fff" stroke="#000" stroke-width="1.15"/>
<line x1="605.8" y1="149.4" x2="617" y2="149.4" stroke="#000" stroke-width="2.8" stroke-linecap="butt"/>
<line x1="625.3" y1="111.6" x2="625.3" y2="143.7" stroke="#000" stroke-width="1.4" stroke-linecap="butt" stroke-dasharray="4.6,3.8"/>
<line x1="622.22" y1="111.6" x2="628.38" y2="111.6" stroke="#000" stroke-width="1.15" stroke-linecap="butt"/>
<line x1="625.3" y1="200.9" x2="625.3" y2="168.9" stroke="#000" stroke-width="1.4" stroke-linecap="butt" stroke-dasharray="4.6,3.8"/>
<line x1="622.22" y1="200.9" x2="628.38" y2="200.9" stroke="#000" stroke-width="1.15" stroke-linecap="butt"/>
<rect x="619.7" y="143.7" width="11.2" height="25.2" fill="#fff" stroke="#000" stroke-width="1.15"/>
<line x1="619.7" y1="151.8" x2="630.9" y2="151.8" stroke="#000" stroke-width="2.8" stroke-linecap="butt"/>
<line x1="639.2" y1="126.1" x2="639.2" y2="156.7" stroke="#000" stroke-width="1.4" stroke-linecap="butt" stroke-dasharray="4.6,3.8"/>
<line x1="636.12" y1="126.1" x2="642.28" y2="126.1" stroke="#000" stroke-width="1.15" stroke-linecap="butt"/>
<line x1="639.2" y1="227.2" x2="639.2" y2="199.6" stroke="#000" stroke-width="1.4" stroke-linecap="butt" stroke-dasharray="4.6,3.8"/>
<line x1="636.12" y1="227.2" x2="642.28" y2="227.2" stroke="#000" stroke-width="1.15" stroke-linecap="butt"/>
<rect x="633.6" y="156.7" width="11.2" height="42.9" fill="#fff" stroke="#000" stroke-width="1.15"/>
<line x1="633.6" y1="164.5" x2="644.8" y2="164.5" stroke="#000" stroke-width="2.8" stroke-linecap="butt"/>
<line x1="653.1" y1="126.1" x2="653.1" y2="133.1" stroke="#000" stroke-width="1.4" stroke-linecap="butt" stroke-dasharray="4.6,3.8"/>
<line x1="650.02" y1="126.1" x2="656.18" y2="126.1" stroke="#000" stroke-width="1.15" stroke-linecap="butt"/>
<line x1="653.1" y1="249.4" x2="653.1" y2="207" stroke="#000" stroke-width="1.4" stroke-linecap="butt" stroke-dasharray="4.6,3.8"/>
<line x1="650.02" y1="249.4" x2="656.18" y2="249.4" stroke="#000" stroke-width="1.15" stroke-linecap="butt"/>
<rect x="647.5" y="133.1" width="11.2" height="73.9" fill="#fff" stroke="#000" stroke-width="1.15"/>
<line x1="647.5" y1="152.6" x2="658.7" y2="152.6" stroke="#000" stroke-width="2.8" stroke-linecap="butt"/>
<line x1="667" y1="132" x2="667" y2="151.3" stroke="#000" stroke-width="1.4" stroke-linecap="butt" stroke-dasharray="4.6,3.8"/>
<line x1="663.92" y1="132" x2="670.08" y2="132" stroke="#000" stroke-width="1.15" stroke-linecap="butt"/>
<line x1="667" y1="249.4" x2="667" y2="215.4" stroke="#000" stroke-width="1.4" stroke-linecap="butt" stroke-dasharray="4.6,3.8"/>
<line x1="663.92" y1="249.4" x2="670.08" y2="249.4" stroke="#000" stroke-width="1.15" stroke-linecap="butt"/>
<rect x="661.4" y="151.3" width="11.2" height="64.1" fill="#fff" stroke="#000" stroke-width="1.15"/>
<line x1="661.4" y1="165.6" x2="672.6" y2="165.6" stroke="#000" stroke-width="2.8" stroke-linecap="butt"/>
<ellipse cx="514.1" cy="145.8" rx="2.9" ry="2.6" fill="none" stroke="#0000ff" stroke-width="2.4"/>
<ellipse cx="514.1" cy="269.6" rx="2.9" ry="2.6" fill="none" stroke="#ff0000" stroke-width="2.4"/>
<ellipse cx="528" cy="132.8" rx="2.9" ry="2.6" fill="none" stroke="#0000ff" stroke-width="2.4"/>
<ellipse cx="528" cy="251.6" rx="2.9" ry="2.6" fill="none" stroke="#ff0000" stroke-width="2.4"/>
<ellipse cx="541.9" cy="133" rx="2.9" ry="2.6" fill="none" stroke="#0000ff" stroke-width="2.4"/>
<ellipse cx="541.9" cy="267.7" rx="2.9" ry="2.6" fill="none" stroke="#ff0000" stroke-width="2.4"/>
<ellipse cx="555.8" cy="198.3" rx="2.9" ry="2.6" fill="none" stroke="#0000ff" stroke-width="2.4"/>
<ellipse cx="555.8" cy="251.6" rx="2.9" ry="2.6" fill="none" stroke="#ff0000" stroke-width="2.4"/>
<ellipse cx="569.7" cy="136.1" rx="2.9" ry="2.6" fill="none" stroke="#0000ff" stroke-width="2.4"/>
<ellipse cx="569.7" cy="267.7" rx="2.9" ry="2.6" fill="none" stroke="#ff0000" stroke-width="2.4"/>
<ellipse cx="583.6" cy="157.2" rx="2.9" ry="2.6" fill="none" stroke="#0000ff" stroke-width="2.4"/>
<ellipse cx="583.6" cy="245" rx="2.9" ry="2.6" fill="none" stroke="#ff0000" stroke-width="2.4"/>
<ellipse cx="597.5" cy="160.4" rx="2.9" ry="2.6" fill="none" stroke="#0000ff" stroke-width="2.4"/>
<ellipse cx="597.5" cy="269.5" rx="2.9" ry="2.6" fill="none" stroke="#ff0000" stroke-width="2.4"/>
<ellipse cx="611.4" cy="150.2" rx="2.9" ry="2.6" fill="none" stroke="#0000ff" stroke-width="2.4"/>
<ellipse cx="611.4" cy="252.8" rx="2.9" ry="2.6" fill="none" stroke="#ff0000" stroke-width="2.4"/>
<ellipse cx="625.3" cy="127.7" rx="2.9" ry="2.6" fill="none" stroke="#0000ff" stroke-width="2.4"/>
<ellipse cx="625.3" cy="214.7" rx="2.9" ry="2.6" fill="none" stroke="#ff0000" stroke-width="2.4"/>
<ellipse cx="639.2" cy="107.4" rx="2.9" ry="2.6" fill="none" stroke="#0000ff" stroke-width="2.4"/>
<ellipse cx="639.2" cy="267.9" rx="2.9" ry="2.6" fill="none" stroke="#ff0000" stroke-width="2.4"/>
<ellipse cx="653.1" cy="158.3" rx="2.9" ry="2.6" fill="none" stroke="#0000ff" stroke-width="2.4"/>
<ellipse cx="653.1" cy="268.8" rx="2.9" ry="2.6" fill="none" stroke="#ff0000" stroke-width="2.4"/>
<ellipse cx="667" cy="132" rx="2.9" ry="2.6" fill="none" stroke="#0000ff" stroke-width="2.4"/>
<ellipse cx="667" cy="268.8" rx="2.9" ry="2.6" fill="none" stroke="#ff0000" stroke-width="2.4"/>
<rect x="500.5" y="24" width="179.9" height="309" fill="none" stroke="#262626" stroke-width="1.5"/>
<line x1="494" y1="321.7" x2="500.5" y2="321.7" stroke="#262626" stroke-width="1.3" stroke-linecap="butt"/>
<text class="t" x="485.7" y="326.9" text-anchor="end" font-size="11" font-weight="normal" fill="#333">0.0</text>
<line x1="494" y1="257.93" x2="500.5" y2="257.93" stroke="#262626" stroke-width="1.3" stroke-linecap="butt"/>
<text class="t" x="485.7" y="263.12" text-anchor="end" font-size="11" font-weight="normal" fill="#333">0.1</text>
<line x1="494" y1="194.15" x2="500.5" y2="194.15" stroke="#262626" stroke-width="1.3" stroke-linecap="butt"/>
<text class="t" x="485.7" y="199.35" text-anchor="end" font-size="11" font-weight="normal" fill="#333">0.2</text>
<line x1="494" y1="130.38" x2="500.5" y2="130.38" stroke="#262626" stroke-width="1.3" stroke-linecap="butt"/>
<text class="t" x="485.7" y="135.57" text-anchor="end" font-size="11" font-weight="normal" fill="#333">0.3</text>
<line x1="494" y1="66.6" x2="500.5" y2="66.6" stroke="#262626" stroke-width="1.3" stroke-linecap="butt"/>
<text class="t" x="485.7" y="71.8" text-anchor="end" font-size="11" font-weight="normal" fill="#333">0.4</text>
<line x1="514.1" y1="333" x2="514.1" y2="340" stroke="#262626" stroke-width="1.3" stroke-linecap="butt"/>
<text class="t" transform="translate(519.6 346) rotate(-90)" text-anchor="end" font-size="11.5" fill="#333">2003</text>
<line x1="528" y1="333" x2="528" y2="340" stroke="#262626" stroke-width="1.3" stroke-linecap="butt"/>
<text class="t" transform="translate(533.5 346) rotate(-90)" text-anchor="end" font-size="11.5" fill="#333">2004</text>
<line x1="541.9" y1="333" x2="541.9" y2="340" stroke="#262626" stroke-width="1.3" stroke-linecap="butt"/>
<text class="t" transform="translate(547.4 346) rotate(-90)" text-anchor="end" font-size="11.5" fill="#333">2005</text>
<line x1="555.8" y1="333" x2="555.8" y2="340" stroke="#262626" stroke-width="1.3" stroke-linecap="butt"/>
<text class="t" transform="translate(561.3 346) rotate(-90)" text-anchor="end" font-size="11.5" fill="#333">2006</text>
<line x1="569.7" y1="333" x2="569.7" y2="340" stroke="#262626" stroke-width="1.3" stroke-linecap="butt"/>
<text class="t" transform="translate(575.2 346) rotate(-90)" text-anchor="end" font-size="11.5" fill="#333">2007</text>
<line x1="583.6" y1="333" x2="583.6" y2="340" stroke="#262626" stroke-width="1.3" stroke-linecap="butt"/>
<text class="t" transform="translate(589.1 346) rotate(-90)" text-anchor="end" font-size="11.5" fill="#333">2008</text>
<line x1="597.5" y1="333" x2="597.5" y2="340" stroke="#262626" stroke-width="1.3" stroke-linecap="butt"/>
<text class="t" transform="translate(603 346) rotate(-90)" text-anchor="end" font-size="11.5" fill="#333">2009</text>
<line x1="611.4" y1="333" x2="611.4" y2="340" stroke="#262626" stroke-width="1.3" stroke-linecap="butt"/>
<text class="t" transform="translate(616.9 346) rotate(-90)" text-anchor="end" font-size="11.5" fill="#333">2010</text>
<line x1="625.3" y1="333" x2="625.3" y2="340" stroke="#262626" stroke-width="1.3" stroke-linecap="butt"/>
<text class="t" transform="translate(630.8 346) rotate(-90)" text-anchor="end" font-size="11.5" fill="#333">2011</text>
<line x1="639.2" y1="333" x2="639.2" y2="340" stroke="#262626" stroke-width="1.3" stroke-linecap="butt"/>
<text class="t" transform="translate(644.7 346) rotate(-90)" text-anchor="end" font-size="11.5" fill="#333">2012</text>
<line x1="653.1" y1="333" x2="653.1" y2="340" stroke="#262626" stroke-width="1.3" stroke-linecap="butt"/>
<text class="t" transform="translate(658.6 346) rotate(-90)" text-anchor="end" font-size="11.5" fill="#333">2013</text>
<line x1="667" y1="333" x2="667" y2="340" stroke="#262626" stroke-width="1.3" stroke-linecap="butt"/>
<text class="t" transform="translate(672.5 346) rotate(-90)" text-anchor="end" font-size="11.5" fill="#333">2014</text>
<text x="474" y="21.9" text-anchor="start" font-size="19.5" font-weight="bold" fill="#000">C</text>
<path d="M493.6 8.8h2.8v12.8h-2.8v-8.7h-3.4v-2c1.6-.1 3-.7 3.4-2.1z" fill="#000"/>
<line x1="56.5" y1="622.1" x2="56.5" y2="634.4" stroke="#000" stroke-width="1.4" stroke-linecap="butt" stroke-dasharray="4.6,3.8"/>
<line x1="49.3" y1="622.1" x2="63.7" y2="622.1" stroke="#000" stroke-width="1.15" stroke-linecap="butt"/>
<line x1="56.5" y1="665.8" x2="56.5" y2="648.9" stroke="#000" stroke-width="1.4" stroke-linecap="butt" stroke-dasharray="4.6,3.8"/>
<line x1="49.3" y1="665.8" x2="63.7" y2="665.8" stroke="#000" stroke-width="1.15" stroke-linecap="butt"/>
<rect x="43.4" y="634.4" width="26.2" height="14.5" fill="#fff" stroke="#000" stroke-width="1.15"/>
<line x1="43.4" y1="642.2" x2="69.6" y2="642.2" stroke="#000" stroke-width="2.8" stroke-linecap="butt"/>
<line x1="89.6" y1="619" x2="89.6" y2="634.4" stroke="#000" stroke-width="1.4" stroke-linecap="butt" stroke-dasharray="4.6,3.8"/>
<line x1="82.39" y1="619" x2="96.8" y2="619" stroke="#000" stroke-width="1.15" stroke-linecap="butt"/>
<line x1="89.6" y1="657.2" x2="89.6" y2="645.5" stroke="#000" stroke-width="1.4" stroke-linecap="butt" stroke-dasharray="4.6,3.8"/>
<line x1="82.39" y1="657.2" x2="96.8" y2="657.2" stroke="#000" stroke-width="1.15" stroke-linecap="butt"/>
<rect x="76.5" y="634.4" width="26.2" height="11.1" fill="#fff" stroke="#000" stroke-width="1.15"/>
<line x1="76.5" y1="639" x2="102.7" y2="639" stroke="#000" stroke-width="2.8" stroke-linecap="butt"/>
<path d="M89.6 608.9l2.1 2.1l-2.1 2.1l-2.1 -2.1z" fill="#5a5a5a"/>
<line x1="122.7" y1="614.9" x2="122.7" y2="633.3" stroke="#000" stroke-width="1.4" stroke-linecap="butt" stroke-dasharray="4.6,3.8"/>
<line x1="115.5" y1="614.9" x2="129.91" y2="614.9" stroke="#000" stroke-width="1.15" stroke-linecap="butt"/>
<line x1="122.7" y1="668.9" x2="122.7" y2="650" stroke="#000" stroke-width="1.4" stroke-linecap="butt" stroke-dasharray="4.6,3.8"/>
<line x1="115.5" y1="668.9" x2="129.91" y2="668.9" stroke="#000" stroke-width="1.15" stroke-linecap="butt"/>
<rect x="109.6" y="633.3" width="26.2" height="16.7" fill="#fff" stroke="#000" stroke-width="1.15"/>
<line x1="109.6" y1="643.5" x2="135.8" y2="643.5" stroke="#000" stroke-width="2.8" stroke-linecap="butt"/>
<path d="M122.7 603.7l2.1 2.1l-2.1 2.1l-2.1 -2.1z" fill="#5a5a5a"/>
<line x1="155.8" y1="613" x2="155.8" y2="629.9" stroke="#000" stroke-width="1.4" stroke-linecap="butt" stroke-dasharray="4.6,3.8"/>
<line x1="148.59" y1="613" x2="163.01" y2="613" stroke="#000" stroke-width="1.15" stroke-linecap="butt"/>
<line x1="155.8" y1="667.6" x2="155.8" y2="648.9" stroke="#000" stroke-width="1.4" stroke-linecap="butt" stroke-dasharray="4.6,3.8"/>
<line x1="148.59" y1="667.6" x2="163.01" y2="667.6" stroke="#000" stroke-width="1.15" stroke-linecap="butt"/>
<rect x="142.7" y="629.9" width="26.2" height="19" fill="#fff" stroke="#000" stroke-width="1.15"/>
<line x1="142.7" y1="637.7" x2="168.9" y2="637.7" stroke="#000" stroke-width="2.8" stroke-linecap="butt"/>
<path d="M155.8 597.9l2.1 2.1l-2.1 2.1l-2.1 -2.1z" fill="#5a5a5a"/>
<line x1="188.9" y1="520.8" x2="188.9" y2="546.8" stroke="#000" stroke-width="1.4" stroke-linecap="butt" stroke-dasharray="4.6,3.8"/>
<line x1="181.69" y1="520.8" x2="196.11" y2="520.8" stroke="#000" stroke-width="1.15" stroke-linecap="butt"/>
<line x1="188.9" y1="656.4" x2="188.9" y2="608.6" stroke="#000" stroke-width="1.4" stroke-linecap="butt" stroke-dasharray="4.6,3.8"/>
<line x1="181.69" y1="656.4" x2="196.11" y2="656.4" stroke="#000" stroke-width="1.15" stroke-linecap="butt"/>
<rect x="175.8" y="546.8" width="26.2" height="61.8" fill="#fff" stroke="#000" stroke-width="1.15"/>
<line x1="175.8" y1="570.7" x2="202" y2="570.7" stroke="#000" stroke-width="2.8" stroke-linecap="butt"/>
<line x1="33.4" y1="626" x2="212.2" y2="626" stroke="#2a2aff" stroke-width="1.5" stroke-linecap="butt"/>
<line x1="33.4" y1="663.7" x2="212.2" y2="663.7" stroke="#ff2a2a" stroke-width="1.5" stroke-linecap="butt"/>
<rect x="33.4" y="400.4" width="178.8" height="308.8" fill="none" stroke="#262626" stroke-width="1.5"/>
<line x1="25.4" y1="697.5" x2="33.4" y2="697.5" stroke="#262626" stroke-width="1.3" stroke-linecap="butt"/>
<text class="t" transform="translate(16.9 698.3) rotate(-90)" text-anchor="middle" font-size="11" fill="#333">0.0</text>
<line x1="25.4" y1="633.97" x2="33.4" y2="633.97" stroke="#262626" stroke-width="1.3" stroke-linecap="butt"/>
<text class="t" transform="translate(16.9 634.77) rotate(-90)" text-anchor="middle" font-size="11" fill="#333">0.1</text>
<line x1="25.4" y1="570.44" x2="33.4" y2="570.44" stroke="#262626" stroke-width="1.3" stroke-linecap="butt"/>
<text class="t" transform="translate(16.9 571.24) rotate(-90)" text-anchor="middle" font-size="11" fill="#333">0.2</text>
<line x1="25.4" y1="506.91" x2="33.4" y2="506.91" stroke="#262626" stroke-width="1.3" stroke-linecap="butt"/>
<text class="t" transform="translate(16.9 507.71) rotate(-90)" text-anchor="middle" font-size="11" fill="#333">0.3</text>
<line x1="25.4" y1="443.38" x2="33.4" y2="443.38" stroke="#262626" stroke-width="1.3" stroke-linecap="butt"/>
<text class="t" transform="translate(16.9 444.18) rotate(-90)" text-anchor="middle" font-size="11" fill="#333">0.4</text>
<line x1="56.5" y1="709.2" x2="56.5" y2="716.2" stroke="#262626" stroke-width="1.3" stroke-linecap="butt"/>
<text class="t" x="55.9" y="734" text-anchor="middle" font-size="11" font-weight="normal" fill="#333">0</text>
<line x1="89.6" y1="709.2" x2="89.6" y2="716.2" stroke="#262626" stroke-width="1.3" stroke-linecap="butt"/>
<text class="t" x="89" y="734" text-anchor="middle" font-size="11" font-weight="normal" fill="#333">1</text>
<line x1="122.7" y1="709.2" x2="122.7" y2="716.2" stroke="#262626" stroke-width="1.3" stroke-linecap="butt"/>
<text class="t" x="122.1" y="734" text-anchor="middle" font-size="11" font-weight="normal" fill="#333">2</text>
<line x1="155.8" y1="709.2" x2="155.8" y2="716.2" stroke="#262626" stroke-width="1.3" stroke-linecap="butt"/>
<text class="t" x="155.2" y="734" text-anchor="middle" font-size="11" font-weight="normal" fill="#333">3</text>
<line x1="188.9" y1="709.2" x2="188.9" y2="716.2" stroke="#262626" stroke-width="1.3" stroke-linecap="butt"/>
<text class="t" x="188.3" y="734" text-anchor="middle" font-size="11" font-weight="normal" fill="#333">4</text>
<text x="3.5" y="395" text-anchor="start" font-size="19.5" font-weight="bold" fill="#000">A2</text>
<line x1="289.6" y1="448.4" x2="289.6" y2="469.6" stroke="#000" stroke-width="1.4" stroke-linecap="butt" stroke-dasharray="4.6,3.8"/>
<line x1="282.4" y1="448.4" x2="296.81" y2="448.4" stroke="#000" stroke-width="1.15" stroke-linecap="butt"/>
<line x1="289.6" y1="503.6" x2="289.6" y2="489.3" stroke="#000" stroke-width="1.4" stroke-linecap="butt" stroke-dasharray="4.6,3.8"/>
<line x1="282.4" y1="503.6" x2="296.81" y2="503.6" stroke="#000" stroke-width="1.15" stroke-linecap="butt"/>
<rect x="276.5" y="469.6" width="26.2" height="19.7" fill="#fff" stroke="#000" stroke-width="1.15"/>
<line x1="276.5" y1="480.4" x2="302.7" y2="480.4" stroke="#000" stroke-width="2.8" stroke-linecap="butt"/>
<line x1="323" y1="600.1" x2="323" y2="612.7" stroke="#000" stroke-width="1.4" stroke-linecap="butt" stroke-dasharray="4.6,3.8"/>
<line x1="315.8" y1="600.1" x2="330.2" y2="600.1" stroke="#000" stroke-width="1.15" stroke-linecap="butt"/>
<line x1="323" y1="653.2" x2="323" y2="638" stroke="#000" stroke-width="1.4" stroke-linecap="butt" stroke-dasharray="4.6,3.8"/>
<line x1="315.8" y1="653.2" x2="330.2" y2="653.2" stroke="#000" stroke-width="1.15" stroke-linecap="butt"/>
<rect x="309.9" y="612.7" width="26.2" height="25.3" fill="#fff" stroke="#000" stroke-width="1.15"/>
<line x1="309.9" y1="628.9" x2="336.1" y2="628.9" stroke="#000" stroke-width="2.8" stroke-linecap="butt"/>
<path d="M323 474.9l2.1 2.1l-2.1 2.1l-2.1 -2.1z" fill="#5a5a5a"/>
<path d="M323 571.5l2.1 2.1l-2.1 2.1l-2.1 -2.1z" fill="#5a5a5a"/>
<line x1="356.4" y1="613.2" x2="356.4" y2="628.9" stroke="#000" stroke-width="1.4" stroke-linecap="butt" stroke-dasharray="4.6,3.8"/>
<line x1="349.2" y1="613.2" x2="363.61" y2="613.2" stroke="#000" stroke-width="1.15" stroke-linecap="butt"/>
<line x1="356.4" y1="655" x2="356.4" y2="641.4" stroke="#000" stroke-width="1.4" stroke-linecap="butt" stroke-dasharray="4.6,3.8"/>
<line x1="349.2" y1="655" x2="363.61" y2="655" stroke="#000" stroke-width="1.15" stroke-linecap="butt"/>
<rect x="343.3" y="628.9" width="26.2" height="12.5" fill="#fff" stroke="#000" stroke-width="1.15"/>
<line x1="343.3" y1="636.2" x2="369.5" y2="636.2" stroke="#000" stroke-width="2.8" stroke-linecap="butt"/>
<line x1="389.8" y1="613.2" x2="389.8" y2="626.5" stroke="#000" stroke-width="1.4" stroke-linecap="butt" stroke-dasharray="4.6,3.8"/>
<line x1="382.6" y1="613.2" x2="397" y2="613.2" stroke="#000" stroke-width="1.15" stroke-linecap="butt"/>
<line x1="389.8" y1="655" x2="389.8" y2="638.3" stroke="#000" stroke-width="1.4" stroke-linecap="butt" stroke-dasharray="4.6,3.8"/>
<line x1="382.6" y1="655" x2="397" y2="655" stroke="#000" stroke-width="1.15" stroke-linecap="butt"/>
<rect x="376.7" y="626.5" width="26.2" height="11.8" fill="#fff" stroke="#000" stroke-width="1.15"/>
<line x1="376.7" y1="634.1" x2="402.9" y2="634.1" stroke="#000" stroke-width="2.8" stroke-linecap="butt"/>
<path d="M389.8 597.5l2.1 2.1l-2.1 2.1l-2.1 -2.1z" fill="#5a5a5a"/>
<line x1="423.2" y1="536.3" x2="423.2" y2="568.4" stroke="#000" stroke-width="1.4" stroke-linecap="butt" stroke-dasharray="4.6,3.8"/>
<line x1="416" y1="536.3" x2="430.41" y2="536.3" stroke="#000" stroke-width="1.15" stroke-linecap="butt"/>
<line x1="423.2" y1="613.4" x2="423.2" y2="595.5" stroke="#000" stroke-width="1.4" stroke-linecap="butt" stroke-dasharray="4.6,3.8"/>
<line x1="416" y1="613.4" x2="430.41" y2="613.4" stroke="#000" stroke-width="1.15" stroke-linecap="butt"/>
<rect x="410.1" y="568.4" width="26.2" height="27.1" fill="#fff" stroke="#000" stroke-width="1.15"/>
<line x1="410.1" y1="584.1" x2="436.3" y2="584.1" stroke="#000" stroke-width="2.8" stroke-linecap="butt"/>
<path d="M423.2 523.7l2.1 2.1l-2.1 2.1l-2.1 -2.1z" fill="#5a5a5a"/>
<line x1="266.5" y1="617.1" x2="446" y2="617.1" stroke="#2a2aff" stroke-width="1.5" stroke-linecap="butt"/>
<line x1="266.5" y1="654" x2="446" y2="654" stroke="#ff2a2a" stroke-width="1.5" stroke-linecap="butt"/>
<rect x="266.5" y="400.4" width="179.5" height="308.8" fill="none" stroke="#262626" stroke-width="1.5"/>
<line x1="259.7" y1="697.5" x2="266.5" y2="697.5" stroke="#262626" stroke-width="1.3" stroke-linecap="butt"/>
<text class="t" transform="translate(250 698.3) rotate(-90)" text-anchor="middle" font-size="11" fill="#333">0.0</text>
<line x1="259.7" y1="633.97" x2="266.5" y2="633.97" stroke="#262626" stroke-width="1.3" stroke-linecap="butt"/>
<text class="t" transform="translate(250 634.77) rotate(-90)" text-anchor="middle" font-size="11" fill="#333">0.1</text>
<line x1="259.7" y1="570.44" x2="266.5" y2="570.44" stroke="#262626" stroke-width="1.3" stroke-linecap="butt"/>
<text class="t" transform="translate(250 571.24) rotate(-90)" text-anchor="middle" font-size="11" fill="#333">0.2</text>
<line x1="259.7" y1="506.91" x2="266.5" y2="506.91" stroke="#262626" stroke-width="1.3" stroke-linecap="butt"/>
<text class="t" transform="translate(250 507.71) rotate(-90)" text-anchor="middle" font-size="11" fill="#333">0.3</text>
<line x1="259.7" y1="443.38" x2="266.5" y2="443.38" stroke="#262626" stroke-width="1.3" stroke-linecap="butt"/>
<text class="t" transform="translate(250 444.18) rotate(-90)" text-anchor="middle" font-size="11" fill="#333">0.4</text>
<line x1="289.6" y1="709.2" x2="289.6" y2="716.2" stroke="#262626" stroke-width="1.3" stroke-linecap="butt"/>
<text class="t" x="289" y="734" text-anchor="middle" font-size="11" font-weight="normal" fill="#333">0</text>
<line x1="323" y1="709.2" x2="323" y2="716.2" stroke="#262626" stroke-width="1.3" stroke-linecap="butt"/>
<text class="t" x="322.4" y="734" text-anchor="middle" font-size="11" font-weight="normal" fill="#333">1</text>
<line x1="356.4" y1="709.2" x2="356.4" y2="716.2" stroke="#262626" stroke-width="1.3" stroke-linecap="butt"/>
<text class="t" x="355.8" y="734" text-anchor="middle" font-size="11" font-weight="normal" fill="#333">2</text>
<line x1="389.8" y1="709.2" x2="389.8" y2="716.2" stroke="#262626" stroke-width="1.3" stroke-linecap="butt"/>
<text class="t" x="389.2" y="734" text-anchor="middle" font-size="11" font-weight="normal" fill="#333">3</text>
<line x1="423.2" y1="709.2" x2="423.2" y2="716.2" stroke="#262626" stroke-width="1.3" stroke-linecap="butt"/>
<text class="t" x="422.6" y="734" text-anchor="middle" font-size="11" font-weight="normal" fill="#333">4</text>
<text x="241.2" y="395" text-anchor="start" font-size="19.5" font-weight="bold" fill="#000">B2</text>
<line x1="524" y1="502.7" x2="524" y2="511" stroke="#000" stroke-width="1.4" stroke-linecap="butt" stroke-dasharray="4.6,3.8"/>
<line x1="516.79" y1="502.7" x2="531.21" y2="502.7" stroke="#000" stroke-width="1.15" stroke-linecap="butt"/>
<line x1="524" y1="604.6" x2="524" y2="559.6" stroke="#000" stroke-width="1.4" stroke-linecap="butt" stroke-dasharray="4.6,3.8"/>
<line x1="516.79" y1="604.6" x2="531.21" y2="604.6" stroke="#000" stroke-width="1.15" stroke-linecap="butt"/>
<rect x="510.9" y="511" width="26.2" height="48.6" fill="#fff" stroke="#000" stroke-width="1.15"/>
<line x1="510.9" y1="534" x2="537.1" y2="534" stroke="#000" stroke-width="2.8" stroke-linecap="butt"/>
<line x1="557.2" y1="488.3" x2="557.2" y2="507.1" stroke="#000" stroke-width="1.4" stroke-linecap="butt" stroke-dasharray="4.6,3.8"/>
<line x1="550" y1="488.3" x2="564.41" y2="488.3" stroke="#000" stroke-width="1.15" stroke-linecap="butt"/>
<line x1="557.2" y1="564.9" x2="557.2" y2="531.1" stroke="#000" stroke-width="1.4" stroke-linecap="butt" stroke-dasharray="4.6,3.8"/>
<line x1="550" y1="564.9" x2="564.41" y2="564.9" stroke="#000" stroke-width="1.15" stroke-linecap="butt"/>
<rect x="544.1" y="507.1" width="26.2" height="24" fill="#fff" stroke="#000" stroke-width="1.15"/>
<line x1="544.1" y1="518.9" x2="570.3" y2="518.9" stroke="#000" stroke-width="2.8" stroke-linecap="butt"/>
<line x1="590.4" y1="496.1" x2="590.4" y2="514.4" stroke="#000" stroke-width="1.4" stroke-linecap="butt" stroke-dasharray="4.6,3.8"/>
<line x1="583.19" y1="496.1" x2="597.61" y2="496.1" stroke="#000" stroke-width="1.15" stroke-linecap="butt"/>
<line x1="590.4" y1="583.1" x2="590.4" y2="548.4" stroke="#000" stroke-width="1.4" stroke-linecap="butt" stroke-dasharray="4.6,3.8"/>
<line x1="583.19" y1="583.1" x2="597.61" y2="583.1" stroke="#000" stroke-width="1.15" stroke-linecap="butt"/>
<rect x="577.3" y="514.4" width="26.2" height="34" fill="#fff" stroke="#000" stroke-width="1.15"/>
<line x1="577.3" y1="533.2" x2="603.5" y2="533.2" stroke="#000" stroke-width="2.8" stroke-linecap="butt"/>
<path d="M590.4 623.8l2.5 2.5l-2.5 2.5l-2.5 -2.5z" fill="#000"/>
<line x1="623.6" y1="501.4" x2="623.6" y2="518.9" stroke="#000" stroke-width="1.4" stroke-linecap="butt" stroke-dasharray="4.6,3.8"/>
<line x1="616.39" y1="501.4" x2="630.81" y2="501.4" stroke="#000" stroke-width="1.15" stroke-linecap="butt"/>
<line x1="623.6" y1="583.1" x2="623.6" y2="555.4" stroke="#000" stroke-width="1.4" stroke-linecap="butt" stroke-dasharray="4.6,3.8"/>
<line x1="616.39" y1="583.1" x2="630.81" y2="583.1" stroke="#000" stroke-width="1.15" stroke-linecap="butt"/>
<rect x="610.5" y="518.9" width="26.2" height="36.5" fill="#fff" stroke="#000" stroke-width="1.15"/>
<line x1="610.5" y1="535.3" x2="636.7" y2="535.3" stroke="#000" stroke-width="2.8" stroke-linecap="butt"/>
<path d="M623.6 609.5l2.1 2.1l-2.1 2.1l-2.1 -2.1z" fill="#5a5a5a"/>
<path d="M623.6 615l2.1 2.1l-2.1 2.1l-2.1 -2.1z" fill="#5a5a5a"/>
<path d="M623.6 622.6l2.1 2.1l-2.1 2.1l-2.1 -2.1z" fill="#5a5a5a"/>
<line x1="656.8" y1="512.3" x2="656.8" y2="517.6" stroke="#000" stroke-width="1.4" stroke-linecap="butt" stroke-dasharray="4.6,3.8"/>
<line x1="649.59" y1="512.3" x2="664" y2="512.3" stroke="#000" stroke-width="1.15" stroke-linecap="butt"/>
<line x1="656.8" y1="594.9" x2="656.8" y2="570.6" stroke="#000" stroke-width="1.4" stroke-linecap="butt" stroke-dasharray="4.6,3.8"/>
<line x1="649.59" y1="594.9" x2="664" y2="594.9" stroke="#000" stroke-width="1.15" stroke-linecap="butt"/>
<rect x="643.7" y="517.6" width="26.2" height="53" fill="#fff" stroke="#000" stroke-width="1.15"/>
<line x1="643.7" y1="537.9" x2="669.9" y2="537.9" stroke="#000" stroke-width="2.8" stroke-linecap="butt"/>
<line x1="500.5" y1="521.8" x2="680.4" y2="521.8" stroke="#2a2aff" stroke-width="1.5" stroke-linecap="butt"/>
<line x1="500.5" y1="634.5" x2="680.4" y2="634.5" stroke="#ff2a2a" stroke-width="1.5" stroke-linecap="butt"/>
<rect x="500.5" y="400.4" width="179.9" height="308.8" fill="none" stroke="#262626" stroke-width="1.5"/>
<line x1="494.1" y1="697.5" x2="500.5" y2="697.5" stroke="#262626" stroke-width="1.3" stroke-linecap="butt"/>
<text class="t" transform="translate(484 698.3) rotate(-90)" text-anchor="middle" font-size="11" fill="#333">0.0</text>
<line x1="494.1" y1="633.97" x2="500.5" y2="633.97" stroke="#262626" stroke-width="1.3" stroke-linecap="butt"/>
<text class="t" transform="translate(484 634.77) rotate(-90)" text-anchor="middle" font-size="11" fill="#333">0.1</text>
<line x1="494.1" y1="570.44" x2="500.5" y2="570.44" stroke="#262626" stroke-width="1.3" stroke-linecap="butt"/>
<text class="t" transform="translate(484 571.24) rotate(-90)" text-anchor="middle" font-size="11" fill="#333">0.2</text>
<line x1="494.1" y1="506.91" x2="500.5" y2="506.91" stroke="#262626" stroke-width="1.3" stroke-linecap="butt"/>
<text class="t" transform="translate(484 507.71) rotate(-90)" text-anchor="middle" font-size="11" fill="#333">0.3</text>
<line x1="494.1" y1="443.38" x2="500.5" y2="443.38" stroke="#262626" stroke-width="1.3" stroke-linecap="butt"/>
<text class="t" transform="translate(484 444.18) rotate(-90)" text-anchor="middle" font-size="11" fill="#333">0.4</text>
<line x1="524" y1="709.2" x2="524" y2="716.2" stroke="#262626" stroke-width="1.3" stroke-linecap="butt"/>
<text class="t" x="523.4" y="734" text-anchor="middle" font-size="11" font-weight="normal" fill="#333">0</text>
<line x1="557.2" y1="709.2" x2="557.2" y2="716.2" stroke="#262626" stroke-width="1.3" stroke-linecap="butt"/>
<text class="t" x="556.6" y="734" text-anchor="middle" font-size="11" font-weight="normal" fill="#333">1</text>
<line x1="590.4" y1="709.2" x2="590.4" y2="716.2" stroke="#262626" stroke-width="1.3" stroke-linecap="butt"/>
<text class="t" x="589.8" y="734" text-anchor="middle" font-size="11" font-weight="normal" fill="#333">2</text>
<line x1="623.6" y1="709.2" x2="623.6" y2="716.2" stroke="#262626" stroke-width="1.3" stroke-linecap="butt"/>
<text class="t" x="623" y="734" text-anchor="middle" font-size="11" font-weight="normal" fill="#333">3</text>
<line x1="656.8" y1="709.2" x2="656.8" y2="716.2" stroke="#262626" stroke-width="1.3" stroke-linecap="butt"/>
<text class="t" x="656.2" y="734" text-anchor="middle" font-size="11" font-weight="normal" fill="#333">4</text>
<text x="474.2" y="395" text-anchor="start" font-size="19.5" font-weight="bold" fill="#000">C2</text>
</svg>
</body></html>
